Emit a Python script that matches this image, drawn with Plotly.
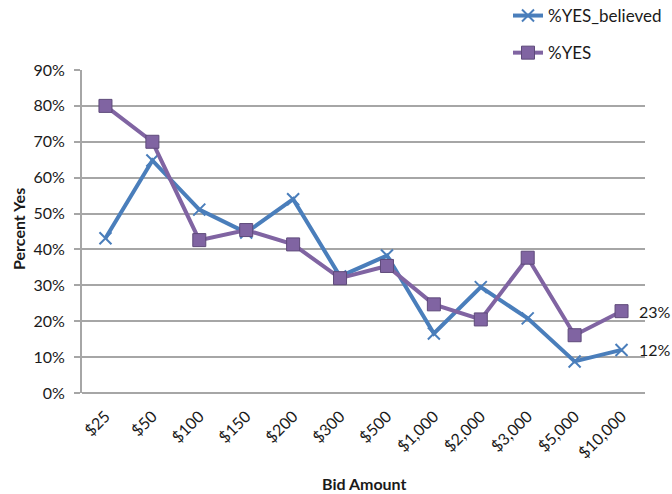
import plotly.graph_objects as go

categories = ["$25", "$50", "$100", "$150", "$200", "$300", "$500",
              "$1,000", "$2,000", "$3,000", "$5,000", "$10,000"]
yes_believed = [0.431, 0.648, 0.511, 0.447, 0.540, 0.325, 0.383,
                0.166, 0.295, 0.208, 0.088, 0.120]
yes = [0.800, 0.700, 0.426, 0.454, 0.414, 0.320, 0.354,
       0.247, 0.205, 0.377, 0.161, 0.228]
end_labels = ["12%", "23%"]

FONT = "Lato"
TXT = "#1a1a1a"
BLUE = "#4A7EBB"
PURPLE = "#8064A2"
GRID = "#A6A6A6"

fig = go.Figure()
fig.add_trace(go.Scatter(
    x=categories, y=yes_believed, name="%YES_believed", mode="lines+markers",
    line=dict(color=BLUE, width=4),
    marker=dict(symbol="x-thin", size=12, line=dict(color=BLUE, width=2), color=BLUE),
    legendgroup="a",
))
fig.add_trace(go.Scatter(
    x=categories, y=yes, name="%YES", mode="lines+markers",
    line=dict(color=PURPLE, width=4),
    marker=dict(symbol="square", size=13, color=PURPLE, line=dict(color="#5E4A7A", width=1)),
    legendgroup="b",
))

fig.add_annotation(x=categories[-1], y=yes_believed[-1], text=end_labels[0],
                   xanchor="left", yanchor="middle", xshift=15, showarrow=False,
                   font=dict(family=FONT, size=16, color=TXT))
fig.add_annotation(x=categories[-1], y=yes[-1], text=end_labels[1],
                   xanchor="left", yanchor="middle", xshift=15, showarrow=False,
                   font=dict(family=FONT, size=16, color=TXT))

# axis titles
fig.add_annotation(xref="paper", yref="paper", x=(364 - 82) / 563, y=-(483 - 393) / 323,
                   text="<b>Bid Amount</b>", showarrow=False, xanchor="center", yanchor="middle",
                   font=dict(family=FONT, size=16, color=TXT))
fig.add_annotation(xref="paper", yref="paper", x=-(82 - 18) / 563, y=(393 - 229) / 323,
                   text="<b>Percent Yes</b>", showarrow=False, textangle=-90,
                   xanchor="center", yanchor="middle",
                   font=dict(family=FONT, size=16, color=TXT))

fig.update_layout(
    width=672, height=494,
    margin=dict(l=82, r=27, t=70, b=101, autoexpand=False),
    paper_bgcolor="white", plot_bgcolor="white",
    font=dict(family=FONT, size=16, color=TXT),
    showlegend=True,
    legend=dict(x=(508 - 82) / 563, y=1 + 72 / 323, xanchor="left", yanchor="top",
                tracegroupgap=12, font=dict(family=FONT, size=17, color=TXT),
                bgcolor="rgba(0,0,0,0)"),
    xaxis=dict(
        type="category", showgrid=False, tickangle=-45,
        showline=False, ticks="", range=[-0.5, 11.5], automargin=False,
        ticklabelstandoff=10,
        tickfont=dict(family=FONT, size=16, color=TXT),
    ),
    yaxis=dict(
        range=[0, 0.9], dtick=0.1, tickformat=".0%", automargin=False,
        showgrid=True, gridcolor=GRID, gridwidth=1.5,
        showline=True, linecolor=GRID, linewidth=2,
        zeroline=True, zerolinecolor=GRID, zerolinewidth=2,
        ticks="outside", ticklen=6, tickcolor=GRID, tickwidth=1.5,
        ticklabelstandoff=6,
        tickfont=dict(family=FONT, size=16, color=TXT),
    ),
)

fig.write_html("out.html")
